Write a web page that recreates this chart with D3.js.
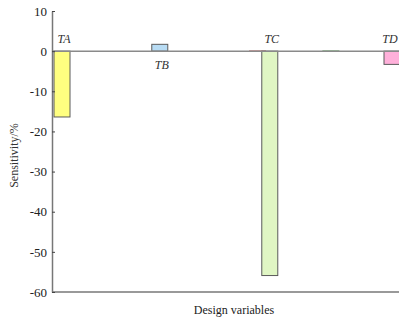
<!DOCTYPE html>
<html>
<head>
<meta charset="utf-8">
<script src="https://cdn.jsdelivr.net/npm/d3@7"></script>
<style>
  html, body { margin: 0; padding: 0; background: #fff; }
  svg { display: block; }
  text { font-family: "Liberation Serif", serif; }
</style>
</head>
<body>
<svg id="chart" width="399" height="321"></svg>
<script>
// Design variables along the x axis (only the four main ones are labelled)
const variables = [
  "TA", "V2", "V3", "V4", "V5", "V6", "V7", "V8",
  "TB", "V10", "V11", "V12", "V13", "V14", "V15", "V16",
  "TP", "TC", "V19", "V20", "V21", "V22",
  "TG", "V24", "V25", "V26", "V27", "TD"
];
// Sensitivity of each design variable, in percent
const sensitivity = [
  -16.4, 0, 0, 0, 0, 0, 0, 0,
  1.7, 0, 0, 0, 0, 0, 0, 0,
  0.15, -55.9, 0, 0, 0, 0,
  0.15, 0, 0, 0, 0, -3.3
];
const labelled = ["TA", "TB", "TC", "TD"];
const yTicks = [10, 0, -10, -20, -30, -40, -50, -60];

const fills = d3.scaleOrdinal()
  .domain(["TA", "TB", "TP", "TC", "TG", "TD"])
  .range(["#ffff80", "#b8dcf4", "#d9a0a0", "#e0f6c4", "#9fc79f", "#ffb0da"]);

const svg = d3.select("#chart");
const plotLeft = 52, plotRight = 399, plotTop = 11, plotBottom = 292;

const y = d3.scaleLinear().domain([-60, 10]).range([plotBottom, plotTop]);
const x = d3.scalePoint().domain(variables).range([62, 392]);
const barW = 16;

const rows = variables.map((v, i) => ({ name: v, value: sensitivity[i] }));

// bars (drawn only where the variable has a nonzero sensitivity)
svg.append("g")
  .selectAll("rect")
  .data(rows.filter(d => d.value !== 0))
  .join("rect")
  .attr("x", d => x(d.name) - barW / 2)
  .attr("width", barW)
  .attr("y", d => y(Math.max(0, d.value)))
  .attr("height", d => Math.abs(y(d.value) - y(0)))
  .attr("fill", d => fills(d.name))
  .attr("stroke", d => labelled.includes(d.name) ? "#5a5a5a" : fills(d.name))
  .attr("stroke-width", 1);

// zero baseline
svg.append("line")
  .attr("x1", plotLeft).attr("x2", plotRight)
  .attr("y1", y(0)).attr("y2", y(0))
  .attr("stroke", "#8a8a8a").attr("stroke-width", 1.5);

// bottom frame line
svg.append("line")
  .attr("x1", plotLeft).attr("x2", plotRight)
  .attr("y1", plotBottom).attr("y2", plotBottom)
  .attr("stroke", "#777").attr("stroke-width", 1.5);

// y axis with inward ticks
const yAxis = d3.axisLeft(y)
  .tickValues(yTicks)
  .tickFormat(d => String(d))
  .tickSizeInner(-3)
  .tickSizeOuter(0)
  .tickPadding(5);
const gy = svg.append("g")
  .attr("transform", `translate(${plotLeft},0)`)
  .call(yAxis)
  .attr("font-family", null);
gy.select(".domain").attr("stroke", "#777").attr("stroke-width", 1.5);
gy.selectAll(".tick line").attr("stroke", "#444");
gy.selectAll(".tick text")
  .attr("fill", "#222")
  .style("font-size", "13px");

// variable labels, placed on the opposite side of the baseline from the bar
svg.append("g")
  .selectAll("text")
  .data(rows.filter(d => labelled.includes(d.name)))
  .join("text")
  .attr("x", d => Math.min(x(d.name) + 2, plotRight - 9))
  .attr("y", d => d.value < 0 ? y(0) - 8 : y(0) + 18)
  .attr("text-anchor", "middle")
  .attr("font-style", "italic")
  .attr("font-size", 12)
  .attr("fill", "#333")
  .text(d => d.name);

// axis titles
svg.append("text")
  .attr("transform", `translate(18,${(plotTop + plotBottom) / 2 + 4}) rotate(-90)`)
  .attr("text-anchor", "middle")
  .attr("font-size", 12)
  .attr("fill", "#333")
  .text("Sensitivity/%");

svg.append("text")
  .attr("x", 234)
  .attr("y", 314)
  .attr("text-anchor", "middle")
  .attr("font-size", 12)
  .attr("fill", "#222")
  .text("Design variables");
</script>
</body>
</html>
